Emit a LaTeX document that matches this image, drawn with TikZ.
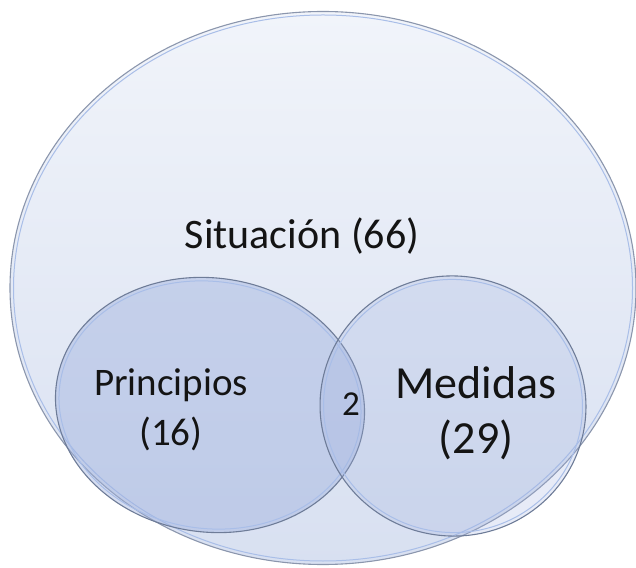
\documentclass[tikz,border=0pt]{standalone}
\usepackage{fontspec}
\setmainfont{Carlito}
\usetikzlibrary{shapes.geometric}
\definecolor{rimdark}{HTML}{6E7C98}
\definecolor{rimlight}{HTML}{A9BEE8}
\definecolor{bigtop}{HTML}{F1F4FA}
\definecolor{bigbot}{HTML}{D8E0F1}
\definecolor{setfill}{HTML}{9FB1DE}
\definecolor{txt}{HTML}{141414}
\tikzset{
  setshape/.style={ellipse, inner sep=0pt, draw=rimdark, line width=1.1pt},
  innerrim/.style={ellipse, inner sep=0pt, draw=rimlight, line width=1pt},
  lbl/.style={text=txt, align=center, inner sep=0pt}
}
\begin{document}
\begin{tikzpicture}[x=1pt,y=1pt]
\useasboundingbox (0,0) rectangle (636,567);
% big set
\node[setshape, minimum width=626pt, minimum height=553pt, top color=bigtop, bottom color=bigbot, draw=rimdark!80] (sit) at (323,279) {};
\node[innerrim, minimum width=619pt, minimum height=546pt] (sitr) at (323,279) {};
% left set
\node[setshape, minimum width=310pt, minimum height=254pt, rotate=-8, fill=setfill, fill opacity=0.45, draw opacity=1] (pri) at (210,162) {};
\node[innerrim, minimum width=303pt, minimum height=247pt, rotate=-8] (prir) at (210,162) {};
% right set
\node[setshape, minimum width=266pt, minimum height=260pt, rotate=-8, fill=setfill, fill opacity=0.25, draw opacity=1] (med) at (453,161) {};
\node[innerrim, minimum width=259pt, minimum height=253pt, rotate=-8] (medr) at (453,161) {};
% labels
\node[lbl, font=\fontsize{42}{46}\selectfont] (tsit) at (302,331) {Situación (66)};
\node[lbl, font=\fontsize{39}{50}\selectfont] (tpri) at (171,157) {Principios\\(16)};
\node[lbl, font=\fontsize{46}{55}\selectfont] (tmed) at (476,154) {Medidas\\(29)};
\node[lbl, font=\fontsize{35}{36}\selectfont] (tint) at (351,163) {2};
\end{tikzpicture}
\end{document}
